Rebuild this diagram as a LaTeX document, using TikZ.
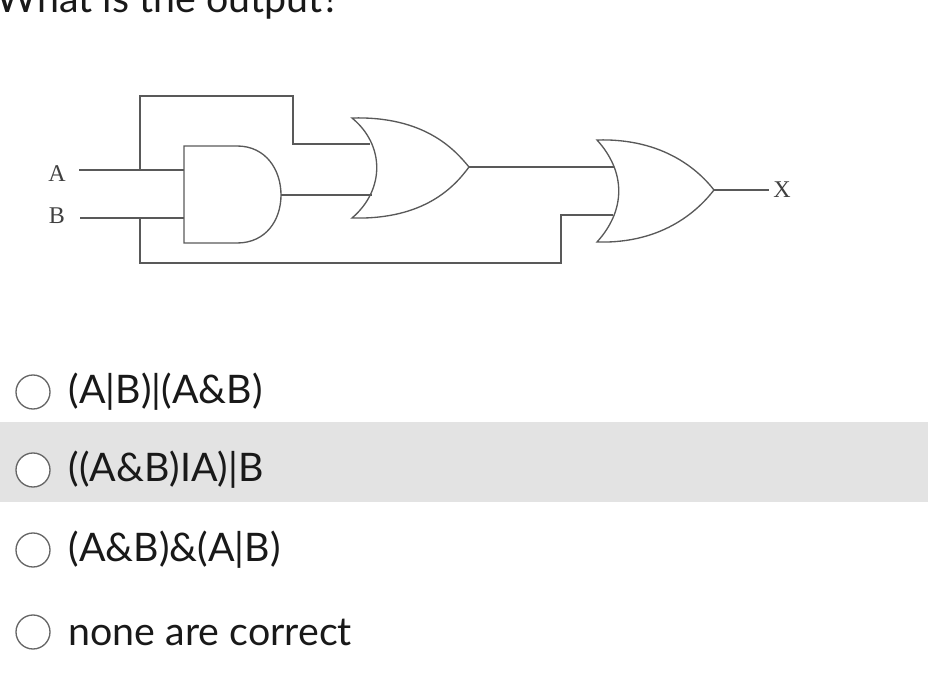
\documentclass[tikz,border=0pt]{standalone}
\usepackage{fontspec}
\setmainfont{Lato}
\newfontfamily\serifA{Liberation Serif}
\begin{document}
\begin{tikzpicture}[x=0.75pt,y=-0.75pt,
  wire/.style={draw=black!65,line width=1pt},
  gate/.style={draw=black!65,line width=1pt},
  opt/.style={anchor=west,font=\fontsize{29.5}{33}\selectfont,text=black!90},
  radio/.style={circle,draw=black!60,line width=1pt,minimum size=25.5pt,inner sep=0pt},
  lbl/.style={font=\serifA\fontsize{18}{20}\selectfont,text=black!75}]
\useasboundingbox (0,0) rectangle (928,698);
\fill[black!11] (0,422) rectangle (928,502);
\node[anchor=base west,font=\fontsize{29.5}{33}\selectfont,text=black!90] (title) at (-8,13) {What is the output?};
% AND gate
\draw[gate] (184,146) -- (237,146) .. controls (266,146) and (281,170) .. (281,195) .. controls (281,220) and (266,243) .. (237,243) -- (184,243) -- cycle;
% OR1
\draw[gate] (352,118) .. controls (425,116) and (455,150) .. (469,167) .. controls (455,186) and (425,220) .. (352,218) .. controls (385,190) and (385,145) .. (352,118) -- cycle;
% OR2
\draw[gate] (597,140) .. controls (665,138) and (700,172) .. (714,190) .. controls (700,208) and (665,244) .. (597,242) .. controls (626,210) and (626,172) .. (597,140) -- cycle;
\node[lbl] (A) at (57,174) {A};
\node[lbl] (B) at (57,216) {B};
\node[lbl] (X) at (782,190) {X};
\coordinate (ja) at (140,170);
\coordinate (jb) at (140,218);
\draw[wire] (79,170) -- (184,170);
\draw[wire] (80,218) -- (184,218);
\draw[wire] (ja) -- (140,96) -- (293,96) -- (293,144) -- (370,144);
\draw[wire] (281,195) -- (372,195);
\draw[wire] (469,167) -- (614,167);
\draw[wire] (jb) -- (140,263) -- (561,263) -- (561,215) -- (613,215);
\draw[wire] (714,190) -- (X.west);
\foreach \y/\t [count=\i] in {392/(A|B)|(A\&B),470/((A\&B)IA)|B,550/(A\&B)\&(A|B),632/none are correct}{
  \node[radio,fill=white] (r\i) at (33,\y) {};
  \node[opt] (o\i) at (64,\y) {\t};
}
\end{tikzpicture}
\end{document}
